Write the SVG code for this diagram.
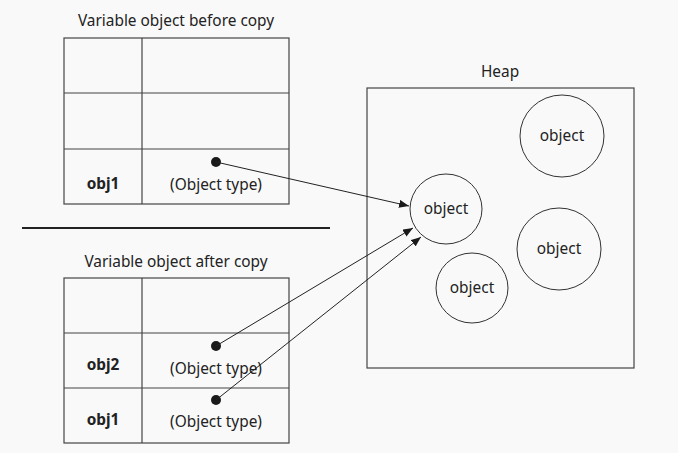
<svg xmlns="http://www.w3.org/2000/svg" width="678" height="453" viewBox="0 0 678 453">
<style>
text{font-family:"Noto Sans","Open Sans",sans-serif;font-size:15.4px;fill:#222;text-anchor:middle}
.b{font-weight:bold}
.box{fill:none;stroke:#444;stroke-width:1.2}
.c{fill:none;stroke:#333;stroke-width:1}
.dot{fill:#1a1a1a}
.con{stroke:#222;stroke-width:1;fill:none}
</style>
<defs>
<marker id="ah" viewBox="0 0 10 8" refX="10" refY="4" markerWidth="10" markerHeight="8" markerUnits="userSpaceOnUse" orient="auto">
<path d="M0,0L10,4L0,8z" fill="#1a1a1a"/>
</marker>
</defs>
<rect width="678" height="453" fill="#f9f9f9"/>
<g id="before">
<text x="176" y="26">Variable object before copy</text>
<rect class="box" x="64" y="38" width="225" height="166"/>
<line class="box" x1="142" y1="38" x2="142" y2="204"/>
<line class="box" x1="64" y1="93" x2="289" y2="93"/>
<line class="box" x1="64" y1="149" x2="289" y2="149"/>
<text class="b" x="103" y="189">obj1</text>
<text x="216" y="190">(Object type)</text>
<circle class="dot" cx="216" cy="162" r="5"/>
</g>
<g id="separator">
<line x1="22" y1="228" x2="330" y2="228" stroke="#222" stroke-width="2"/>
</g>
<g id="after">
<text x="176" y="267">Variable object after copy</text>
<rect class="box" x="64" y="278" width="225" height="165"/>
<line class="box" x1="142" y1="278" x2="142" y2="443"/>
<line class="box" x1="64" y1="333" x2="289" y2="333"/>
<line class="box" x1="64" y1="388" x2="289" y2="388"/>
<text class="b" x="103" y="370">obj2</text>
<text x="216" y="374">(Object type)</text>
<text class="b" x="103" y="425">obj1</text>
<text x="216" y="427">(Object type)</text>
<circle class="dot" cx="216" cy="346" r="5"/>
<circle class="dot" cx="216" cy="400" r="5"/>
</g>
<g id="heap">
<text x="500" y="77">Heap</text>
<rect class="box" x="367" y="88" width="267" height="280"/>
</g>
<g id="obj-a"><ellipse class="c" cx="562" cy="136" rx="42" ry="41"/><text x="562" y="141">object</text></g>
<g id="obj-target"><ellipse class="c" cx="446" cy="209" rx="36" ry="35"/><text x="446" y="214">object</text></g>
<g id="obj-b"><ellipse class="c" cx="559" cy="249" rx="42" ry="41"/><text x="559" y="254">object</text></g>
<g id="obj-c"><ellipse class="c" cx="472" cy="288" rx="36" ry="35"/><text x="472" y="293">object</text></g>
<g id="connectors">
<line class="con" x1="216" y1="162" x2="409" y2="206" marker-end="url(#ah)"/>
<line class="con" x1="216" y1="346" x2="413" y2="228" marker-end="url(#ah)"/>
<line class="con" x1="216" y1="400" x2="421" y2="237" marker-end="url(#ah)"/>
</g>
</svg>
